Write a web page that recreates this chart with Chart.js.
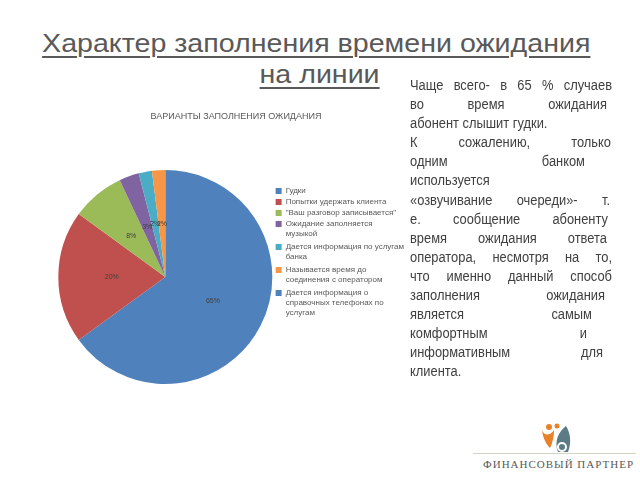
<!DOCTYPE html>
<html>
<head>
<meta charset="utf-8">
<script src="https://cdn.jsdelivr.net/npm/chart.js@4"></script>
<style>
  html, body { margin: 0; padding: 0; background: #fff; }
  body { width: 640px; height: 480px; position: relative; overflow: hidden; font-family: "Liberation Sans", Arial, sans-serif; }
  #chart { position: absolute; left: 0; top: 0; }
  .title { position: absolute; left: 0; top: 28px; width: 640px; text-align: center; color: #595959;
           font-size: 26px; line-height: 31px; }
  .title span { display: inline-block; text-decoration: underline; text-decoration-thickness: 2px; text-underline-offset: 4px;
                transform: scaleX(1.10); }
  .title span.first { transform: translateX(-4px) scaleX(1.10); }
  .note { position: absolute; left: 410px; top: 76px; width: 222px; color: #404040; font-size: 14px; line-height: 19.1px;
          transform: scaleX(0.92); transform-origin: 0 0; }
  .note .j { display: flex; justify-content: space-between; white-space: nowrap; }
  .note .l { white-space: nowrap; }
  .brand { position: absolute; left: 483px; top: 458px; width: 153px; font-family: "Liberation Serif", "DejaVu Serif", serif;
           font-size: 11px; letter-spacing: 1px; color: #595959; white-space: nowrap; }
  .rule { position: absolute; left: 473px; top: 453px; width: 163px; height: 1px; background: #d4d4c4; }
  .logo { position: absolute; left: 538px; top: 420px; }
</style>
</head>
<body>
<div class="title"><span class="first">Характер заполнения времени ожидания</span><br><span>на линии</span></div>

<canvas id="chart" width="418" height="480"></canvas>

<div class="note" id="note"></div>

<svg class="logo" width="40" height="36" viewBox="0 0 40 36">
  <circle cx="11" cy="7" r="3" fill="#e8822a"/>
  <path d="M4 10 C6 16 12 16 16 10 C16 18 14 24 12 28 C8 24 5 18 4 10 Z" fill="#e8822a"/>
  <circle cx="19" cy="6" r="2.5" fill="#e8822a"/>
  <path d="M28 6 C20 12 16 22 20 32 L30 32 C34 22 32 12 28 6 Z" fill="#5b7b86"/>
  <circle cx="24" cy="27" r="4" fill="none" stroke="#fff" stroke-width="2"/>
</svg>
<div class="rule"></div>
<div class="brand">ФИНАНСОВЫЙ ПАРТНЕР</div>

<script>
// chart data
const chartTitle = "ВАРИАНТЫ ЗАПОЛНЕНИЯ ОЖИДАНИЯ";
const categories = [
    "Гудки",
    "Попытки удержать клиента",
    "\"Ваш разговор записывается\"",
    ["Ожидание заполняется", "музыкой"],
    ["Дается информация по услугам", "банка"],
    ["Называется время до", "соединения с оператором"],
    ["Дается информация о", "справочных телефонах по", "услугам"]
];
const shares = [65, 20, 8, 3, 2, 2, 0];
const sliceColors = ["#4f81bd", "#c0504d", "#9bbb59", "#8064a2", "#4bacc6", "#f79646", "#4f81bd"];

// text block, one entry per line; second item = right edge of a stretched line (0 = ragged)
const noteLines = [
    ["Чаще всего- в 65 % случаев", 612],
    ["во время ожидания", 607],
    ["абонент слышит гудки.", 0],
    ["К сожалению, только", 611],
    ["одним банком", 585],
    ["используется", 0],
    ["«озвучивание очереди»- т.", 610],
    ["е. сообщение абоненту", 608],
    ["время ожидания ответа", 607],
    ["оператора, несмотря на то,", 612],
    ["что именно данный способ", 612],
    ["заполнения ожидания", 605],
    ["является самым", 592],
    ["комфортным и", 587],
    ["информативным для", 603],
    ["клиента.", 0]
];

const note = document.getElementById("note");
noteLines.forEach(([text, right]) => {
    const row = document.createElement("div");
    row.className = right ? "j" : "l";
    if (right) {
        row.style.width = ((right - 410) / 0.92) + "px";
        text.split(" ").forEach(w => {
            const s = document.createElement("span");
            s.textContent = w;
            row.appendChild(s);
        });
    } else {
        row.textContent = text;
    }
    note.appendChild(row);
});

// percent labels inside slices
const sliceLabels = {
    id: "sliceLabels",
    afterDatasetsDraw(chart) {
        const ctx = chart.ctx;
        const meta = chart.getDatasetMeta(0);
        ctx.save();
        ctx.font = "7px 'Liberation Sans', Arial, sans-serif";
        ctx.fillStyle = "#404040";
        ctx.textAlign = "center";
        ctx.textBaseline = "middle";
        meta.data.forEach((arc, i) => {
            const v = shares[i];
            if (!v) return;
            const p = arc.tooltipPosition();
            ctx.fillText(v + "%", p.x, p.y);
        });
        ctx.restore();
    }
};

new Chart(document.getElementById("chart").getContext("2d"), {
    type: "pie",
    data: {
        labels: categories,
        datasets: [{
            data: shares,
            backgroundColor: sliceColors,
            borderWidth: 0
        }]
    },
    options: {
        responsive: false,
        animation: false,
        layout: { padding: { left: 58, top: 110, right: 4, bottom: 96 } },
        plugins: {
            title: {
                display: true,
                text: chartTitle,
                color: "#595959",
                font: { size: 9, weight: "normal", family: "'Liberation Sans', Arial, sans-serif" },
                padding: { top: 1.5, bottom: 47.7 }
            },
            legend: {
                position: "right",
                align: "start",
                title: { display: true, text: "", font: { size: 8 }, padding: { top: 64.4, bottom: 0 } },
                labels: {
                    boxWidth: 6,
                    boxHeight: 6,
                    padding: 3,
                    color: "#595959",
                    font: { size: 8, lineHeight: 1.25, family: "'Liberation Sans', Arial, sans-serif" }
                }
            },
            tooltip: { enabled: false }
        }
    },
    plugins: [sliceLabels]
});
</script>
</body>
</html>
